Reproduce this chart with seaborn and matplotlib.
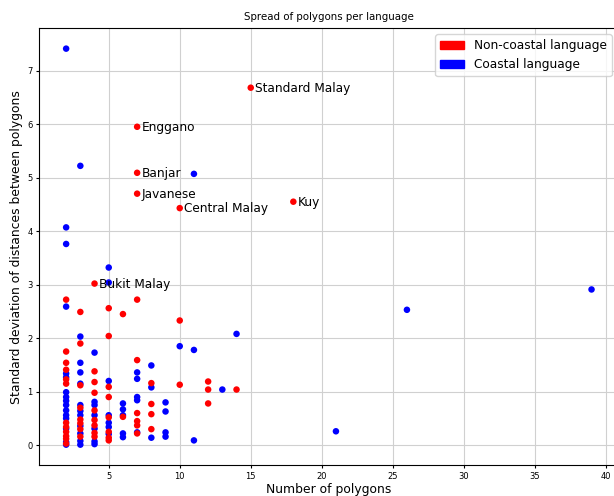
import matplotlib
matplotlib.use("Agg")
import matplotlib.pyplot as plt
from matplotlib.patches import Patch
import seaborn as sns
import pandas as pd

# Non-coastal languages (red)
red_x = [2]*12 + [3]*8 + [4]*8 + [5]*8 + [6]*2 + [7]*6 + [8]*4 + [10]*2 + [12]*3 + [14]
red_y = [2.72, 1.75, 1.54, 1.41, 1.23, 1.15, 0.42, 0.34, 0.25, 0.17, 0.12, 0.03,
         2.49, 1.90, 1.12, 0.70, 0.48, 0.41, 0.30, 0.16,
         1.38, 1.18, 0.98, 0.65, 0.47, 0.37, 0.23, 0.16,
         2.56, 2.04, 1.09, 0.90, 0.52, 0.25, 0.14, 0.09,
         2.45, 0.53,
         2.72, 1.59, 0.60, 0.45, 0.37, 0.22,
         1.16, 0.77, 0.58, 0.30,
         2.33, 1.13,
         1.19, 1.04, 0.78,
         1.04]

# Labelled non-coastal languages
label_names = ["Standard Malay", "Enggano", "Banjar", "Javanese", "Central Malay", "Kuy", "Bukit Malay"]
label_x = [15, 7, 7, 7, 10, 18, 4]
label_y = [6.68, 5.95, 5.09, 4.70, 4.43, 4.55, 3.02]

# Coastal languages (blue)
blue_x = [2]*16 + [3]*12 + [4]*7 + [5]*7 + [6]*5 + [7]*5 + [8]*3 + [9]*4 + [10] + [11]*3 + [13] + [14] + [21] + [26] + [39]
blue_y = [7.41, 4.07, 3.76, 2.59, 1.34, 1.27, 0.99, 0.90, 0.83, 0.75, 0.65, 0.56, 0.50, 0.31, 0.06, 0.01,
          5.22, 2.03, 1.54, 1.36, 1.15, 0.75, 0.64, 0.56, 0.36, 0.22, 0.08, 0.01,
          1.73, 0.81, 0.75, 0.56, 0.31, 0.07, 0.02,
          3.32, 3.04, 1.20, 0.56, 0.42, 0.34, 0.21,
          0.78, 0.67, 0.56, 0.22, 0.15,
          1.36, 1.24, 0.90, 0.84, 0.24,
          1.49, 1.08, 0.14,
          0.80, 0.63, 0.24, 0.16,
          1.85,
          5.07, 1.78, 0.09,
          1.04,
          2.08,
          0.26,
          2.53,
          2.91]

df = pd.DataFrame({
    "polygons": blue_x + red_x + label_x,
    "sd": blue_y + red_y + label_y,
    "kind": ["Coastal"]*len(blue_x) + ["Non-coastal"]*(len(red_x) + len(label_x)),
})

fig = plt.figure(figsize=(6.14, 4.96), dpi=100)
ax = fig.add_axes([39.3/614, 31/496, (617.8-39.3)/614, (465-28.3)/496])
ax.set_axisbelow(True)
ax.grid(True, color="#d0d0d0", linewidth=0.8)

sns.scatterplot(data=df, x="polygons", y="sd", hue="kind",
                palette={"Coastal": "blue", "Non-coastal": "red"},
                s=22, linewidth=0, legend=False, ax=ax)

for name, x, y in zip(label_names, label_x, label_y):
    ax.annotate(name, (x, y), xytext=(3.2, -0.5), textcoords="offset points",
                va="center", ha="left", fontsize=8.75)

ax.set_xticks([5, 10, 15, 20, 25, 30, 35, 40])
ax.set_xlim(0.11, 40.85)
ax.set_ylim(-0.37, 7.79)
ax.tick_params(labelsize=6, length=2.3, pad=2.4)
ax.set_xlabel("Number of polygons", fontsize=8.9, labelpad=2)
ax.set_ylabel("Standard deviation of distances between polygons", fontsize=8.9, labelpad=3)
ax.set_title("Spread of polygons per language", fontsize=7.4)

handles = [Patch(color="red", label="Non-coastal language"),
           Patch(color="blue", label="Coastal language")]
ax.legend(handles=handles, loc="upper right", fontsize=8.7)

fig.savefig("out.png", dpi=100)
